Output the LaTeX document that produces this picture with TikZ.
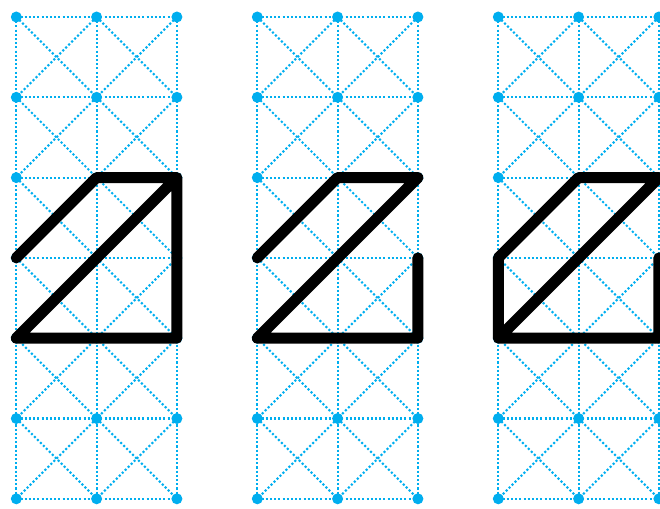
\documentclass[tikz,border=0pt]{standalone}
\definecolor{gridblue}{RGB}{0,174,239}
\begin{document}
\begin{tikzpicture}[x=1pt,y=-1pt,
  gridline/.style={gridblue, line width=2.1pt, dash pattern=on 2.1pt off 2.1pt},
  gdot/.style={fill=gridblue, draw=none},
  stroke/.style={black, line width=11pt, line cap=round, line join=round}]
\useasboundingbox (0,0) rectangle (660,508);
\clip (0,0) rectangle (660,508);
\def\cs{80.3}
\foreach \g in {0,1,2}{
  \pgfmathsetmacro{\ox}{16.3+\g*241}
  \foreach \i in {0,1,2}{
    \foreach \j in {0,...,6}{
      \coordinate (g\g-\i-\j) at ({\ox+\i*\cs},{17+\j*\cs});
    }
  }
}
% grid lines
\foreach \g in {0,1,2}{
  \foreach \i in {0,1,2}{
    \draw[gridline] (g\g-\i-0) -- (g\g-\i-6);
  }
  \foreach \j in {0,...,6}{
    \draw[gridline] (g\g-0-\j) -- (g\g-2-\j);
  }
  \foreach \i/\ii in {0/1,1/2}{
    \foreach \j/\jj in {0/1,1/2,2/3,3/4,4/5,5/6}{
      \draw[gridline] (g\g-\i-\j) -- (g\g-\ii-\jj);
      \draw[gridline] (g\g-\ii-\j) -- (g\g-\i-\jj);
    }
  }
  \foreach \i in {0,1,2}{
    \foreach \j in {0,...,6}{
      \fill[gdot] (g\g-\i-\j) circle (5.5pt);
    }
  }
}
% black strokes
\draw[stroke] (g0-0-3) -- (g0-1-2) -- (g0-2-2) -- (g0-2-4) -- (g0-0-4) -- (g0-2-2);
\draw[stroke] (g1-0-3) -- (g1-1-2) -- (g1-2-2) -- (g1-0-4) -- (g1-2-4) -- (g1-2-3);
\draw[stroke] (g2-2-3) -- (g2-2-4) -- (g2-0-4) -- (g2-0-3) -- (g2-1-2) -- (g2-2-2) -- (g2-0-4);
\end{tikzpicture}
\end{document}
